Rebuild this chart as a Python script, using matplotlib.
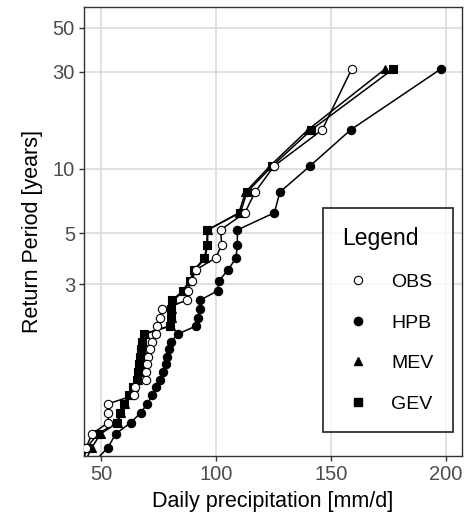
import matplotlib
matplotlib.use("Agg")
import matplotlib.pyplot as plt
from matplotlib.lines import Line2D
import numpy as np

plt.rcParams['font.family'] = ['Liberation Sans', 'DejaVu Sans']

# return periods, Weibull plotting positions for 30 annual maxima
n_years = 30
rank = np.arange(1, n_years + 1)
return_period = (n_years + 1) / rank

# annual max daily precipitation [mm/d], sorted descending
obs = [159.0, 146.2, 125.3, 117.0, 112.6, 102.0, 102.5, 99.9, 91.2, 89.4,
       87.7, 87.4, 76.4, 75.7, 74.2, 73.8, 72.0, 71.3, 70.6, 70.1,
       69.7, 69.5, 64.7, 64.4, 53.1, 53.1, 53.1, 46.1, 43.5, 42.0]
hpb = [197.7, 158.6, 140.9, 127.8, 125.4, 109.3, 109.3, 108.7, 105.3, 101.3,
       100.7, 93.0, 93.0, 92.3, 91.3, 83.5, 80.4, 79.6, 78.8, 78.1,
       77.0, 75.7, 73.8, 72.3, 70.1, 67.3, 62.9, 56.4, 53.0, 45.0]
mev = [173.5, 140.0, 123.5, 112.8, 110.0, 96.5, 96.3, 95.3, 91.0, 88.8,
       86.0, 81.5, 81.0, 80.7, 80.3, 69.0, 68.4, 68.0, 67.6, 67.1,
       66.7, 66.3, 64.2, 62.8, 60.3, 58.9, 57.3, 49.8, 46.0, 42.0]
gev = [177.0, 141.5, 124.5, 113.5, 110.6, 96.2, 96.0, 95.0, 90.5, 88.5,
       85.5, 81.0, 80.6, 80.3, 79.8, 68.5, 67.9, 67.5, 67.1, 66.6,
       66.2, 65.8, 63.7, 62.3, 59.8, 58.4, 56.8, 48.6, 43.8, 41.0]

y_ticks = [3, 5, 10, 30, 50]
x_ticks = [50, 100, 150, 200]


def gumbel(T):
    T = np.asarray(T, dtype=float)
    with np.errstate(all='ignore'):
        return -np.log(-np.log(1 - 1 / T))


def gumbel_inv(y):
    y = np.asarray(y, dtype=float)
    with np.errstate(all='ignore'):
        return 1 / (1 - np.exp(-np.exp(-y)))


fig = plt.figure(figsize=(4.72, 5.21), dpi=100)
ax = fig.add_axes([84 / 472, 1 - 456 / 521, 378 / 472, 449 / 521])
ax.set_yscale('function', functions=(gumbel, gumbel_inv))

series = [
    ('GEV', gev, 's', 'black'),
    ('MEV', mev, '^', 'black'),
    ('HPB', hpb, 'o', 'black'),
    ('OBS', obs, 'o', 'white'),
]
for name, vals, mk, fc in series:
    ax.plot(vals, return_period, color='black', lw=1.1, marker=mk,
            markersize=6, markerfacecolor=fc, markeredgecolor='black',
            markeredgewidth=0.8, zorder=3)

ax.set_xlim(42.6, 207.0)
ax.set_ylim(gumbel_inv(-1.107), gumbel_inv(4.144))
ax.set_xticks(x_ticks)
ax.set_yticks(y_ticks)
ax.set_yticklabels([str(t) for t in y_ticks])
ax.minorticks_off()
ax.grid(True, color='#d9d9d9', lw=1.1, zorder=0)
ax.set_axisbelow(True)
for sp in ax.spines.values():
    sp.set_color('#333333')
    sp.set_linewidth(1.0)
ax.tick_params(axis='both', colors='#333333', length=3.5, width=1.0,
               labelsize=14.5, labelcolor='#4d4d4d', pad=3)

ax.set_xlabel('Daily precipitation [mm/d]', fontsize=15.5, labelpad=5)
ax.set_ylabel('Return Period [years]', fontsize=15.5, labelpad=7)

handles = [
    Line2D([], [], ls='none', marker='o', ms=6, mfc='white', mec='black', mew=0.8),
    Line2D([], [], ls='none', marker='o', ms=6, mfc='black', mec='black'),
    Line2D([], [], ls='none', marker='^', ms=6, mfc='black', mec='black'),
    Line2D([], [], ls='none', marker='s', ms=6, mfc='black', mec='black'),
]
leg = fig.legend(handles, ['OBS', 'HPB', 'MEV', 'GEV'], title='Legend',
                 loc='upper left', bbox_to_anchor=(323 / 472, 1 - 208 / 521),
                 fontsize=14, title_fontsize=16.5, frameon=True, fancybox=False,
                 borderpad=1.0, labelspacing=1.18, handletextpad=0.9,
                 handlelength=1.6, alignment='left', borderaxespad=0)
leg.get_frame().set_edgecolor('black')
leg.get_frame().set_linewidth(1.3)

fig.savefig('out.png', dpi=100)
